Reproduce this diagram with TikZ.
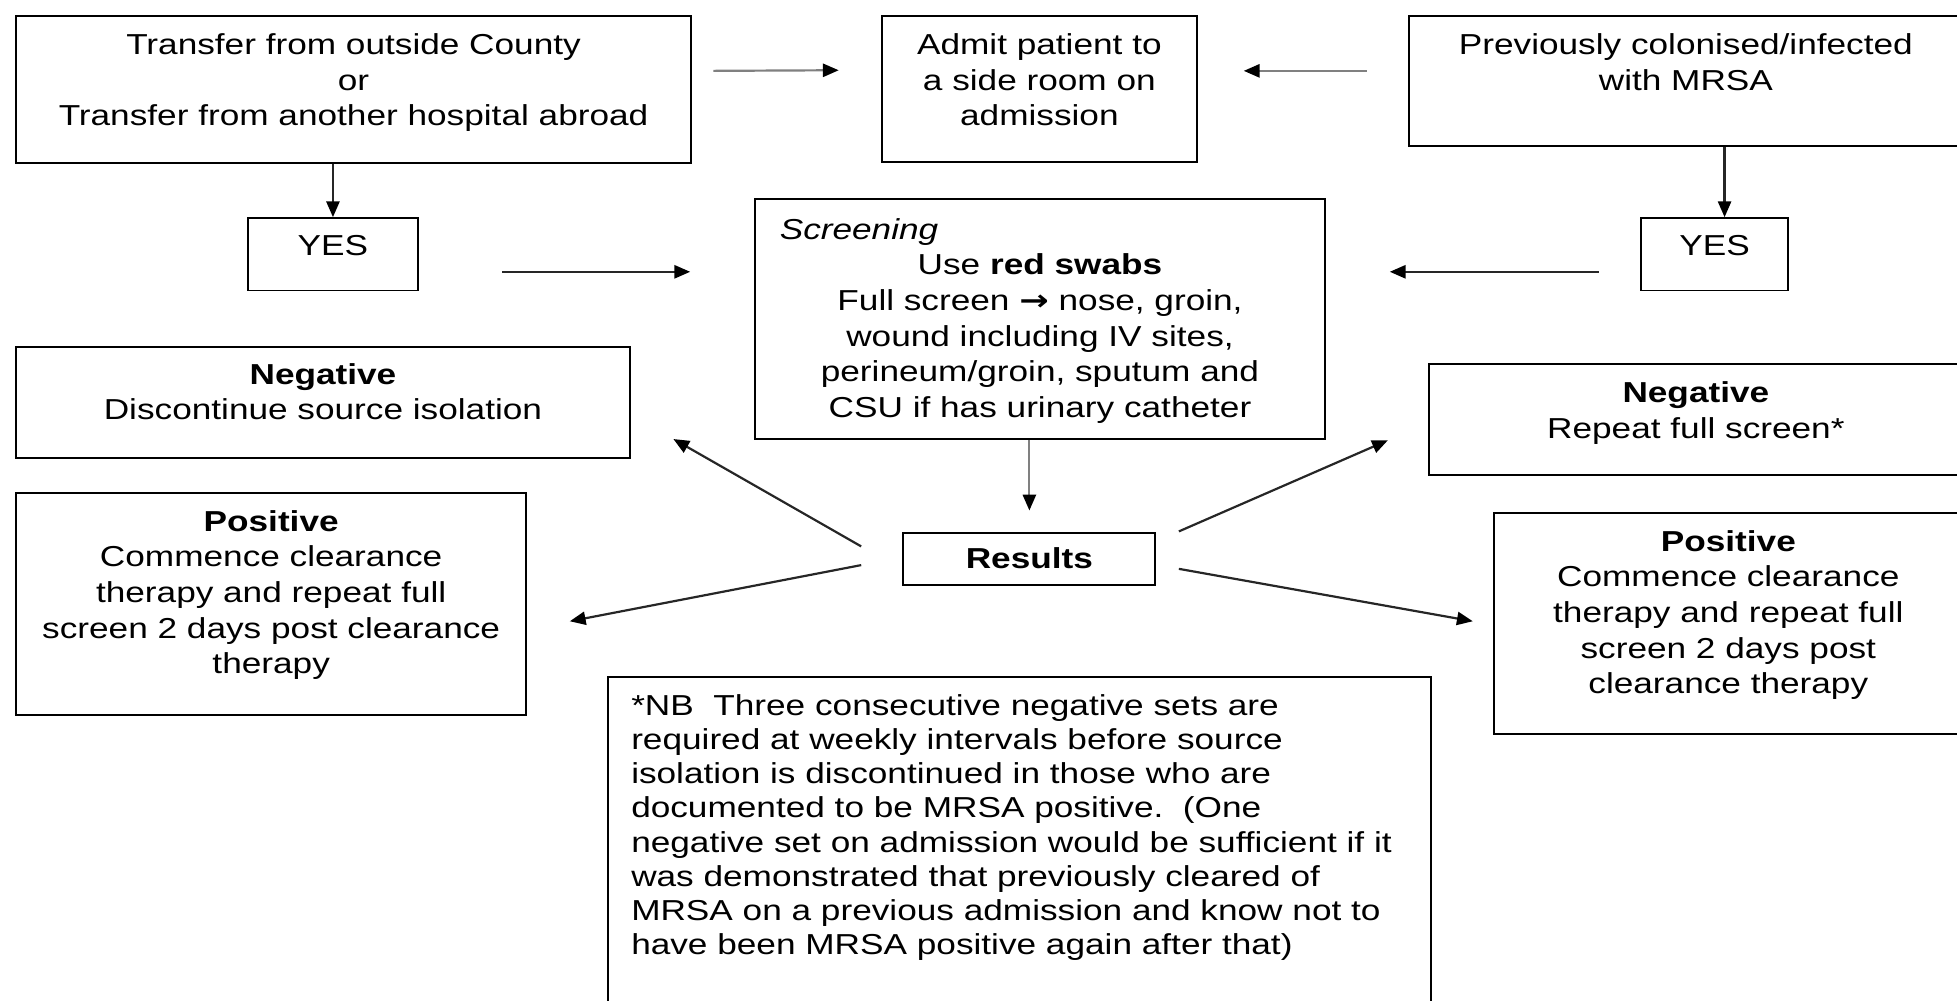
\documentclass[tikz,border=0pt]{standalone}
\usepackage{fontspec}
\setmainfont{Liberation Sans}[FakeStretch=1.22]
\newfontfamily\dejavu{DejaVu Sans}[FakeStretch=1.22]
\usetikzlibrary{arrows.meta,calc}
\newlength\px \setlength\px{0.025cm}
\newcommand\fsz{\fontsize{16.44pt}{20.27pt}\selectfont}
\newcommand\bxt[4]{\parbox[c][#2][t]{#1}{\centering\vspace*{#3}\strut #4\par}}
\tikzset{
  box/.style={draw, line width=1.1pt, inner sep=0pt, anchor=north west, font=\fsz},
  arr/.style={line width=1.25pt, draw=black!85, -{Triangle[length=9pt,width=7.5pt,color=black]}},
  garr/.style={arr, draw=black!50},
}
\begin{document}
\begin{tikzpicture}[x=0.025cm, y=-0.025cm]
\useasboundingbox (0,0) rectangle (1568,802);
\clip (0,0) rectangle (1568,802);
% boxes
\node[box] (tr) at (12,12) {\bxt{541\px}{118\px}{11\px}{Transfer from outside County\\or\\Transfer from another hospital abroad}};
\node[box] (ad) at (706,12) {\bxt{252\px}{117\px}{11\px}{Admit patient to\\a side room on\\admission}};
\node[box] (pv) at (1128,12) {\bxt{444\px}{104\px}{11\px}{Previously colonised/infected\\with MRSA}};
\node[box] (yl) at (198,174) {\bxt{136\px}{58\px}{10\px}{YES}};
\node[box] (yr) at (1314,174) {\bxt{118\px}{58\px}{10\px}{YES}};
\node[box] (sc) at (604,159) {\bxt{457\px}{192\px}{12\px}{\makebox[\linewidth][l]{\hspace*{20\px}\itshape Screening}\\Use \textbf{red swabs}\\Full screen {\dejavu\bfseries →} nose, groin,\\wound including IV sites,\\perineum/groin, sputum and\\CSU if has urinary catheter}};
\node[box] (nl) at (12,277) {\bxt{492\px}{89\px}{10\px}{\textbf{Negative}\\Discontinue source isolation}};
\node[box] (pl) at (12,394) {\bxt{409\px}{178\px}{11\px}{\textbf{Positive}\\Commence clearance\\therapy and repeat full\\screen 2 days post clearance\\therapy}};
\node[box] (rs) at (723,426) {\bxt{202\px}{42\px}{9\px}{\textbf{Results}}};
\node[box] (nr) at (1144,291) {\bxt{428\px}{89\px}{11\px}{\textbf{Negative}\\Repeat full screen*}};
\node[box] (pr) at (1196,410) {\bxt{376\px}{177\px}{11\px}{\textbf{Positive}\\Commence clearance\\therapy and repeat full\\screen 2 days post\\clearance therapy}};
\node[box] (nb) at (486,542) {\parbox[c][264\px][t]{660\px}{\fontsize{16.44pt}{19.5pt}\selectfont\raggedright\leftskip=19\px\vspace*{11\px}\strut *NB\ \ Three consecutive negative sets are\\required at weekly intervals before source\\isolation is discontinued in those who are\\documented to be MRSA positive.\ \ (One\\negative set on admission would be sufficient if it\\was demonstrated that previously cleared of\\MRSA on a previous admission and know not to\\have been MRSA positive again after that)\par}};
% helper coordinate
\coordinate (yrt) at ($(yr.north)+(8,0)$);
% arrows
\draw[garr] ($(tr.east)+(17,-15)$) -- ($(ad.west)+(-34,-15)$);
\draw[garr] ($(pv.west)+(-33,-8)$) -- ($(ad.east)+(37,-14.5)$);
\draw[arr] (tr.south -| yl.north) -- (yl.north);
\draw[arr] (yrt |- pv.south) -- (yrt);
\draw[arr] ($(yl.east)+(67,14)$) -- ($(sc.west)+(-51,-38)$);
\draw[arr] ($(yr.west)+(-33,14)$) -- ($(sc.east)+(51,-38)$);
\draw[garr] (rs.north |- sc.south) -- ($(rs.north)+(0,-17)$);
\draw[arr] ($(rs.west)+(-33,-10)$) -- ($(nl.east)+(34,29.5)$);
\draw[arr] ($(rs.west)+(-33,5)$) -- ($(pl.east)+(34,14)$);
\draw[arr] ($(rs.east)+(18,-22)$) -- ($(nr.west)+(-32,16.5)$);
\draw[arr] ($(rs.east)+(18,8)$) -- ($(pr.west)+(-16,-1.5)$);
\end{tikzpicture}
\end{document}
